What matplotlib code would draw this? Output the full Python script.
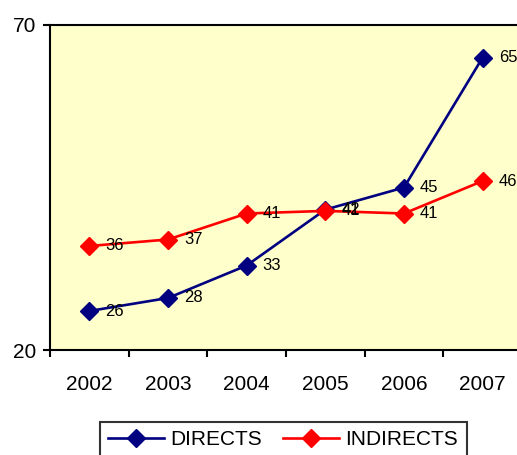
import matplotlib.pyplot as plt
import numpy as np

plt.rcParams["font.family"] = ["Liberation Sans", "DejaVu Sans"]

years = ["2002", "2003", "2004", "2005", "2006", "2007"]
directs = [26, 28, 33, 41.6, 45, 65]
indirects = [36, 37, 41, 41.4, 41, 46]

fig = plt.figure(figsize=(5.17, 4.55), dpi=100)
ax = fig.add_axes([50 / 517, 1 - 350 / 455, 472 / 517, 325 / 455])
ax.set_facecolor("#FFFFCC")

x = np.arange(len(years))
series = [("DIRECTS", directs, "#000080"), ("INDIRECTS", indirects, "#FF0000")]
for name, vals, color in series:
    ax.plot(x, vals, color=color, linewidth=1.9, marker="D", markersize=9,
            label=name, clip_on=False)
    for xi, v in zip(x, vals):
        ax.annotate(f"{v:.0f}", (xi, v), xytext=(11.5, 0), textcoords="offset points",
                    va="center", ha="left", fontsize=12)

ax.set_xlim(-0.5, 5.5)
ax.set_ylim(20, 70)
ax.set_yticks([20, 70])
ax.tick_params(axis="y", labelsize=15, length=5, width=1.5, pad=5)

# category boundaries get the tick marks, years sit in between
ax.set_xticks(np.arange(-0.5, 6, 1))
ax.set_xticklabels([])
ax.set_xticks(x, minor=True)
ax.set_xticklabels(years, minor=True)
ax.tick_params(axis="x", which="major", length=5, width=1.5)
ax.tick_params(axis="x", which="minor", length=0, labelsize=15, pad=18)

for side in ["left", "bottom", "top", "right"]:
    ax.spines[side].set_color("black")
    ax.spines[side].set_linewidth(1.5)

leg = ax.legend(loc="upper center", bbox_to_anchor=(283 / 517, 33 / 455),
                bbox_transform=fig.transFigure, ncol=2, fontsize=15,
                frameon=True, fancybox=False, edgecolor="black",
                handlelength=2.7, columnspacing=1.0, handletextpad=0.3,
                borderpad=0.4, borderaxespad=0)
leg.get_frame().set_linewidth(1.5)

fig.savefig("out.png", dpi=100)
